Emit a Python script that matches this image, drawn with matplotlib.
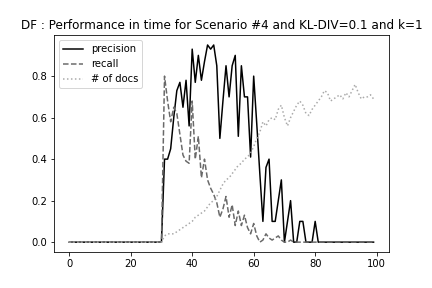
import numpy as np
import matplotlib
matplotlib.use("Agg")
import matplotlib.pyplot as plt

# time steps 0..99
steps = list(range(100))

# values (0 before step 31 and after step 81 for precision)
precision = [0.0] * 31 + [
    0.40, 0.40, 0.45, 0.60, 0.73, 0.77, 0.65, 0.78, 0.56, 0.93,   # 31-40
    0.77, 0.90, 0.78, 0.87, 0.95, 0.93, 0.95, 0.85, 0.50, 0.68,   # 41-50
    0.85, 0.70, 0.85, 0.90, 0.51, 0.85, 0.70, 0.70, 0.41, 0.80,   # 51-60
    0.57, 0.33, 0.10, 0.36, 0.40, 0.10, 0.10, 0.20, 0.30, 0.0,    # 61-70
    0.10, 0.20, 0.0, 0.0, 0.10, 0.10, 0.0, 0.0, 0.0, 0.10,        # 71-80
] + [0.0] * 19

recall = [0.0] * 31 + [
    0.80, 0.68, 0.58, 0.65, 0.62, 0.52, 0.42, 0.39, 0.38, 0.68,   # 31-40
    0.40, 0.51, 0.31, 0.40, 0.30, 0.26, 0.23, 0.19, 0.12, 0.16,   # 41-50
    0.22, 0.12, 0.18, 0.08, 0.15, 0.08, 0.13, 0.07, 0.04, 0.09,   # 51-60
    0.03, 0.0, 0.01, 0.04, 0.02, 0.01, 0.02, 0.03, 0.01, 0.0,     # 61-70
    0.0, 0.01, 0.0,                                               # 71-73
] + [0.0] * 26

n_docs = [0.0] * 31 + [
    0.03, 0.04, 0.04, 0.04, 0.05, 0.06, 0.07, 0.08, 0.09, 0.10,   # 31-40
    0.12, 0.13, 0.14, 0.15, 0.17, 0.19, 0.20, 0.22, 0.25, 0.28,   # 41-50
    0.30, 0.31, 0.33, 0.35, 0.37, 0.38, 0.40, 0.41, 0.43, 0.46,   # 51-60
    0.50, 0.53, 0.58, 0.56, 0.59, 0.60, 0.59, 0.64, 0.66, 0.60,   # 61-70
    0.56, 0.60, 0.63, 0.66, 0.68, 0.66, 0.62, 0.61, 0.64, 0.66,   # 71-80
    0.68, 0.70, 0.73, 0.72, 0.68, 0.69, 0.70, 0.71, 0.69, 0.72,   # 81-90
    0.70, 0.73, 0.76, 0.72, 0.69, 0.70, 0.70, 0.71, 0.69,         # 91-99
]

fig, ax = plt.subplots(figsize=(6, 4), dpi=72)
fig.subplots_adjust(left=0.125, right=0.9, bottom=0.125, top=0.878)

ax.plot(steps, precision, color="black", linestyle="-", label="precision")
ax.plot(steps, recall, color="dimgray", linestyle="--", label="recall")
ax.plot(steps, n_docs, color="darkgray", linestyle=":", label="# of docs")

ax.set_title("DF : Performance in time for Scenario #4 and KL-DIV=0.1 and k=1")
ax.legend(loc="upper left")

fig.savefig("out.png", dpi=72)
